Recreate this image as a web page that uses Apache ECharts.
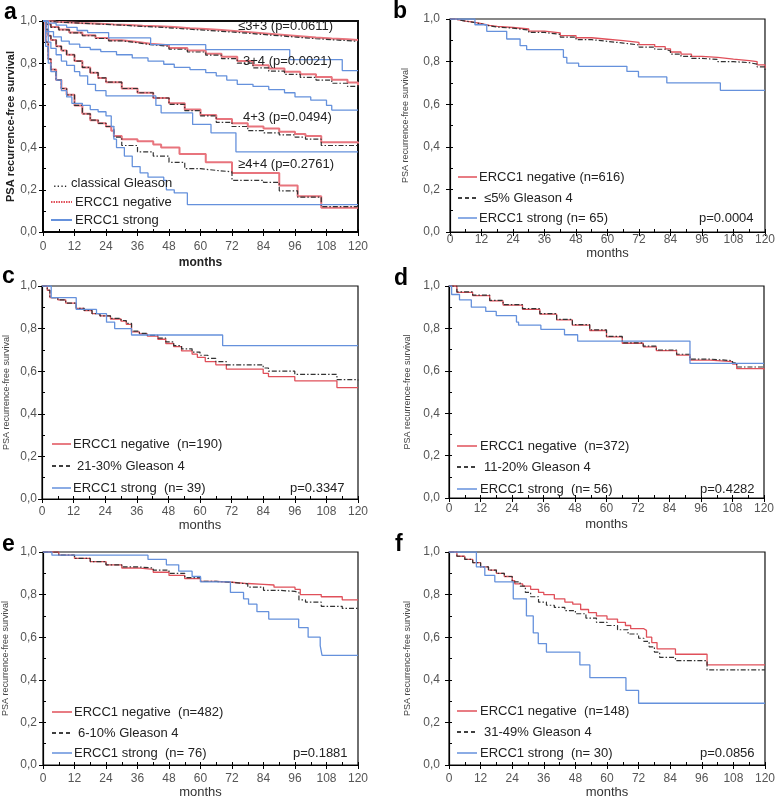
<!DOCTYPE html>
<html><head><meta charset="utf-8">
<script src="https://cdn.jsdelivr.net/npm/echarts@6.0.0/dist/echarts.min.js"></script>
<style>html,body{margin:0;padding:0;background:#fff}#c{width:778px;height:800px}</style>
</head><body><div id="c"></div>
<script>
// ---------- data (months, survival) ----------
const monthTicks = [0, 12, 24, 36, 48, 60, 72, 84, 96, 108, 120];
const survivalTicks = [0, 0.2, 0.4, 0.6, 0.8, 1.0];

// panel a: classical Gleason groups
const a33Neg = [[0,1],[2,0.997],[5,0.994],[9,0.991],[14,0.988],[20,0.984],[27,0.981],[33,0.978],[38,0.975],[44,0.971],[50,0.966],[56,0.962],[62,0.957],[68,0.952],[74,0.946],[80,0.94],[86,0.934],[92,0.928],[98,0.922],[104,0.917],[110,0.913],[116,0.91],[120,0.908]];
const a33Gleason = [[0,1],[2,0.996],[5,0.993],[9,0.99],[14,0.986],[20,0.982],[27,0.978],[33,0.974],[38,0.971],[44,0.966],[50,0.961],[56,0.956],[62,0.951],[68,0.946],[74,0.94],[80,0.934],[86,0.928],[92,0.922],[98,0.916],[104,0.911],[110,0.907],[116,0.903],[120,0.9]];
const a33Strong = [[0,1],[2,0.99],[5,0.98],[9,0.97],[13,0.955],[17,0.945],[25,0.92],[41,0.888],[62,0.864],[94,0.817],[114,0.765],[120,0.765]];

const a34Neg = [[0,1],[1,0.985],[3,0.972],[6,0.96],[10,0.946],[15,0.932],[20,0.92],[25,0.909],[30,0.9],[36,0.892],[41,0.885],[48,0.872],[55,0.86],[62,0.845],[68,0.83],[74,0.81],[80,0.79],[86,0.775],[92,0.76],[98,0.748],[104,0.735],[110,0.722],[116,0.708],[120,0.695]];
const a34Gleason = [[0,1],[1,0.984],[3,0.97],[6,0.958],[10,0.944],[15,0.93],[20,0.917],[25,0.906],[30,0.897],[36,0.888],[41,0.88],[48,0.866],[55,0.853],[62,0.838],[68,0.822],[74,0.8],[80,0.778],[86,0.762],[92,0.747],[98,0.733],[104,0.72],[110,0.705],[116,0.69],[120,0.68]];
const a34Strong = [[0,1],[2,0.95],[4,0.925],[7,0.905],[10,0.89],[14,0.875],[18,0.865],[22,0.855],[28,0.84],[34,0.825],[40,0.81],[46,0.795],[50,0.78],[56,0.77],[62,0.755],[66,0.74],[70,0.72],[74,0.7],[80,0.69],[86,0.675],[92,0.66],[96,0.64],[102,0.625],[108,0.6],[110,0.578],[120,0.578]];

const a43Neg = [[0,1],[1,0.96],[2,0.93],[3,0.91],[5,0.88],[7,0.86],[9,0.84],[12,0.81],[15,0.78],[18,0.755],[21,0.73],[24,0.71],[30,0.68],[36,0.66],[42,0.635],[48,0.61],[54,0.58],[60,0.555],[66,0.535],[72,0.515],[78,0.5],[84,0.49],[90,0.475],[96,0.465],[100,0.455],[106,0.425],[120,0.42]];
const a43Gleason = [[0,1],[1,0.96],[2,0.93],[3,0.91],[5,0.88],[7,0.86],[9,0.84],[12,0.81],[15,0.78],[18,0.755],[21,0.73],[24,0.71],[30,0.68],[36,0.66],[42,0.635],[48,0.605],[54,0.575],[60,0.55],[66,0.52],[72,0.5],[78,0.48],[84,0.47],[90,0.46],[96,0.45],[100,0.44],[106,0.41],[120,0.405]];
const a43Strong = [[0,1],[1,0.95],[2,0.9],[3,0.87],[5,0.84],[7,0.81],[9,0.79],[12,0.76],[14,0.74],[17,0.7],[20,0.67],[24,0.645],[36,0.645],[43,0.6],[45,0.565],[57,0.51],[64,0.47],[73.5,0.38],[120,0.38]];

const a44Neg = [[0,1],[1,0.9],[2,0.82],[3,0.77],[5,0.72],[7,0.68],[9,0.65],[12,0.6],[15,0.56],[18,0.53],[21,0.515],[24,0.5],[26,0.48],[27,0.455],[30,0.44],[36,0.43],[42,0.415],[45,0.4],[52,0.37],[62,0.33],[72,0.28],[90,0.22],[97,0.17],[106,0.115],[120,0.115]];
const a44Gleason = [[0,1],[1,0.9],[2,0.82],[3,0.77],[5,0.72],[7,0.68],[9,0.65],[12,0.6],[15,0.56],[18,0.53],[21,0.515],[24,0.5],[27,0.45],[30,0.41],[36,0.38],[42,0.36],[48,0.33],[54,0.3],[60,0.292],[66,0.285],[72,0.245],[84,0.235],[90,0.195],[97,0.165],[106,0.12],[120,0.12]];
const a44Strong = [[0,1],[1,0.88],[2,0.8],[3,0.76],[5,0.72],[7,0.67],[9,0.64],[11,0.61],[15,0.6],[18,0.58],[21,0.57],[24,0.55],[26,0.5],[27,0.44],[28,0.4],[31,0.36],[34,0.31],[37,0.28],[40,0.26],[46,0.245],[47,0.2],[50,0.185],[55,0.13],[120,0.13]];

// panel b: <=5% Gleason 4
const bNeg = [[0,1],[2,0.995],[4,0.99],[6,0.985],[9,0.978],[12,0.97],[15,0.965],[18,0.96],[24,0.953],[30,0.943],[36,0.935],[42,0.922],[48,0.912],[54,0.905],[60,0.898],[66,0.89],[72,0.88],[78,0.87],[82,0.86],[84,0.845],[88,0.835],[92,0.825],[96,0.82],[102,0.812],[108,0.805],[114,0.8],[117,0.785],[120,0.77]];
const bGleason = [[0,1],[2,0.995],[4,0.99],[6,0.984],[9,0.977],[12,0.968],[15,0.962],[18,0.957],[24,0.948],[30,0.937],[36,0.928],[42,0.915],[48,0.903],[54,0.895],[60,0.887],[66,0.878],[72,0.868],[78,0.858],[82,0.85],[84,0.835],[88,0.825],[92,0.815],[96,0.81],[102,0.8],[108,0.795],[114,0.788],[117,0.775],[120,0.76]];
const bStrong = [[0,1],[9.5,0.973],[14,0.942],[18,0.942],[21.6,0.906],[26.7,0.875],[29.2,0.856],[43.2,0.82],[44.5,0.793],[49,0.778],[67.4,0.754],[71.8,0.728],[82.6,0.7],[103,0.665],[120,0.665]];

// panel c: 21-30% Gleason 4
const cNeg = [[0,1],[2,0.98],[3,0.945],[6,0.935],[9,0.92],[13,0.895],[16,0.885],[19,0.87],[22,0.86],[26,0.845],[30,0.835],[32,0.82],[34,0.785],[37,0.775],[40,0.765],[44,0.75],[47,0.73],[50,0.715],[53,0.695],[57,0.68],[59,0.665],[62,0.645],[66,0.63],[70,0.61],[84,0.59],[86,0.575],[96,0.555],[112,0.523],[120,0.523]];
const cGleason = [[0,1],[2,0.98],[3,0.945],[6,0.935],[9,0.92],[13,0.895],[16,0.885],[19,0.87],[22,0.86],[26,0.848],[30,0.838],[32,0.825],[34,0.788],[37,0.778],[40,0.768],[44,0.755],[47,0.738],[50,0.72],[53,0.705],[57,0.69],[60,0.675],[63,0.66],[66,0.645],[70,0.63],[84,0.615],[86,0.6],[96,0.585],[112,0.56],[120,0.556]];
const cStrong = [[0,1],[1.6,1],[3.5,0.945],[13,0.89],[20.7,0.87],[24.5,0.83],[27.6,0.8],[34,0.77],[68.6,0.72],[120,0.72]];

// panel d: 11-20% Gleason 4
const dNeg = [[0,1],[3,0.97],[9,0.955],[15.5,0.93],[20.6,0.91],[28,0.89],[34.6,0.867],[41,0.84],[47,0.815],[53.6,0.79],[60,0.76],[66,0.73],[74,0.713],[79,0.695],[86.7,0.674],[91.8,0.65],[99.4,0.643],[108,0.632],[109.6,0.61],[120,0.605]];
const dGleason = [[0,1],[3,0.972],[9,0.957],[15.5,0.932],[20.6,0.912],[28,0.893],[34.6,0.87],[41,0.843],[47,0.818],[53.6,0.793],[60,0.762],[66,0.732],[74,0.716],[79,0.698],[86.7,0.678],[91.8,0.655],[99.4,0.648],[108,0.638],[109.6,0.618],[120,0.615]];
const dStrong = [[0,1],[1,0.96],[4,0.935],[8.5,0.9],[14,0.88],[18,0.86],[25.7,0.83],[26.5,0.815],[35,0.795],[44,0.77],[49,0.74],[91.8,0.635],[120,0.635]];

// panel e: 6-10% Gleason 4
const eNeg = [[0,1],[6,0.985],[12,0.97],[18,0.955],[24,0.94],[30,0.925],[36,0.918],[42,0.905],[48,0.89],[54,0.875],[60,0.862],[66,0.858],[72,0.852],[78,0.848],[84,0.845],[88,0.835],[96,0.825],[98,0.8],[106,0.79],[114,0.775],[120,0.775]];
const eGleason = [[0,1],[6,0.985],[12,0.97],[18,0.955],[24,0.94],[30,0.93],[36,0.925],[42,0.915],[48,0.9],[54,0.88],[60,0.862],[66,0.858],[72,0.85],[78,0.835],[84,0.82],[90,0.815],[96,0.81],[97.5,0.775],[100,0.765],[106,0.745],[114,0.735],[120,0.73]];
const eStrong = [[0,1],[3.4,0.985],[40,0.965],[47,0.94],[51.7,0.91],[56.8,0.885],[60,0.86],[71.4,0.81],[76.4,0.78],[78.3,0.755],[81.5,0.72],[86,0.685],[97.4,0.645],[101,0.6],[105.6,0.56],[106.3,0.515],[120,0.515]];

// panel f: 31-49% Gleason 4
const fNeg = [[0,1],[3,0.98],[6,0.965],[9,0.95],[12,0.93],[15,0.915],[18,0.9],[21,0.885],[24,0.865],[25,0.85],[28,0.84],[31,0.825],[34,0.81],[36,0.8],[40,0.78],[44,0.765],[47,0.755],[50,0.73],[53,0.715],[56,0.7],[60,0.685],[64,0.67],[67,0.655],[69,0.64],[74,0.632],[75,0.6],[77,0.575],[79,0.545],[86,0.52],[98,0.47],[120,0.47]];
const fGleason = [[0,1],[3,0.98],[6,0.965],[9,0.95],[12,0.93],[15,0.915],[18,0.9],[21,0.885],[24,0.86],[27,0.84],[29,0.81],[31,0.79],[34,0.765],[37,0.75],[40,0.74],[44,0.725],[48,0.71],[52,0.69],[56,0.67],[60,0.655],[64,0.635],[68,0.615],[72,0.595],[74,0.58],[76,0.555],[78,0.53],[80,0.505],[86,0.49],[98,0.447],[120,0.447]];
const fStrong = [[0,1],[10.4,0.93],[13.6,0.89],[17.4,0.86],[24.4,0.78],[29.4,0.7],[32,0.62],[33.9,0.57],[37,0.53],[49.7,0.47],[53.5,0.41],[67.2,0.35],[72,0.29],[120,0.29]];

// ---------- layout & style ----------
const RED_A = '#e8747d', RED = '#e0505a', BLUE = '#6591dc', BLK = '#333333';
const panels = [
  {g:{left:43, top:21, width:315, height:211}, bold:true, lm:9, ng:25, ylm:6, yng:26,
   series:[[a33Neg,'n'],[a33Gleason,'g'],[a33Strong,'s'],[a34Neg,'n'],[a34Gleason,'g'],[a34Strong,'s'],
           [a43Neg,'n'],[a43Gleason,'g'],[a43Strong,'s'],[a44Neg,'n'],[a44Gleason,'g'],[a44Strong,'s']]},
  {g:{left:450, top:19, width:315, height:213}, lm:2, ng:9, ylm:10, yng:40, series:[[bNeg,'n'],[bGleason,'g'],[bStrong,'s']]},
  {g:{left:42, top:286, width:316, height:213}, lm:7, ng:19, ylm:5, yng:31, series:[[cNeg,'n'],[cGleason,'g'],[cStrong,'s']]},
  {g:{left:449, top:286, width:315, height:212}, lm:5, ng:20, ylm:9, yng:37, series:[[dNeg,'n'],[dGleason,'g'],[dStrong,'s']]},
  {g:{left:43, top:552, width:315, height:213}, lm:8, ng:21, ylm:6, yng:33, series:[[eNeg,'n'],[eGleason,'g'],[eStrong,'s']]},
  {g:{left:449, top:552, width:316, height:213}, lm:8, ng:21, ylm:9, yng:37, series:[[fNeg,'n'],[fGleason,'g'],[fStrong,'s']]}
];
const FONT = 'Liberation Sans, Arial, sans-serif';
const grid = [], xAxis = [], yAxis = [], series = [];
panels.forEach((p, i) => {
  grid.push(Object.assign({show:true, borderColor:'#111', borderWidth:p.bold?2:1.2, backgroundColor:'transparent'}, p.g));
  xAxis.push({gridIndex:i, type:'value', min:monthTicks[0], max:monthTicks[monthTicks.length-1], interval:12,
    axisLine:{show:true, onZero:false, lineStyle:{color:'#000', width:p.bold?1.5:1.2}},
    axisTick:{show:true, length:4, lineStyle:{color:'#000'}},
    axisLabel:{fontSize:12, color:'#555', margin:p.lm, fontFamily:FONT},
    splitLine:{show:false},
    name:'months', nameLocation:'middle', nameGap:p.ng,
    nameTextStyle:{fontSize:p.bold?12:13, fontWeight:p.bold?'bold':'normal', color:p.bold?'#222':'#333', fontFamily:FONT}});
  xAxis.push({gridIndex:i, type:'value', min:0, max:120, interval:6, position:'bottom',
    axisLine:{show:false}, axisTick:{show:true, inside:true, length:3, lineStyle:{color:'#000'}},
    axisLabel:{show:false}, splitLine:{show:false}});
  yAxis.push({gridIndex:i, type:'value', min:survivalTicks[0], max:survivalTicks[survivalTicks.length-1], interval:0.2,
    axisLine:{show:true, onZero:false, lineStyle:{color:'#000', width:p.bold?1.5:1.2}},
    axisTick:{show:true, length:4, lineStyle:{color:'#000'}},
    axisLabel:{fontSize:12, color:'#555', margin:p.ylm, fontFamily:FONT, formatter:v => v.toFixed(1).replace('.', ',')},
    splitLine:{show:false},
    name:'PSA recurrence-free survival', nameLocation:'middle', nameGap:p.yng,
    nameTextStyle:{fontSize:p.bold?11:9, fontWeight:p.bold?'bold':'normal', color:p.bold?'#222':'#444', fontFamily:FONT}});
  yAxis.push({gridIndex:i, type:'value', min:0, max:1, interval:0.1, position:'left',
    axisLine:{show:false}, axisTick:{show:true, inside:true, length:3, lineStyle:{color:'#000'}},
    axisLabel:{show:false}, splitLine:{show:false}});
  p.series.forEach(([data, kind]) => {
    const ls = kind === 'n' ? {color:p.bold?RED_A:RED, width:p.bold?2:1.3, type:'solid'}
             : kind === 'g' ? {color:BLK, width:1.2, type:[5,2,1.5,2]}
             : {color:BLUE, width:1.3, type:'solid'};
    series.push({type:'line', step:'end', data:data, xAxisIndex:2*i, yAxisIndex:2*i, showSymbol:false, symbol:'none',
      silent:true, animation:false, lineStyle:ls, z: kind==='n'?2:(kind==='g'?3:4)});
  });
});

// ---------- annotation texts ----------
function txt(x, y, t, opt) {
  return {type:'text', x:x, y:y, z:100, style:Object.assign({text:t, font:'13px '+FONT, fill:'#222', verticalAlign:'middle', align:'left'}, opt||{})};
}
function seg(x1, y1, x2, y2, color, dash, w) {
  return {type:'line', z:100, shape:{x1:x1, y1:y1, x2:x2, y2:y2}, style:{stroke:color, lineWidth:w||1.5, lineDash:dash||null}};
}
const graphic = [
  txt(4, 13, 'a', {font:'bold 23px '+FONT, fill:'#000'}),
  txt(393, 12, 'b', {font:'bold 23px '+FONT, fill:'#000'}),
  txt(2, 277, 'c', {font:'bold 23px '+FONT, fill:'#000'}),
  txt(394, 279, 'd', {font:'bold 23px '+FONT, fill:'#000'}),
  txt(2, 545, 'e', {font:'bold 23px '+FONT, fill:'#000'}),
  txt(395, 545, 'f', {font:'bold 23px '+FONT, fill:'#000'}),
  // panel a
  txt(238, 26, '≤3+3 (p=0.0611)'),
  txt(243, 61, '3+4 (p=0.0021)'),
  txt(243, 117, '4+3 (p=0.0494)'),
  txt(238, 164, '≥4+4 (p=0.2761)'),
  txt(53, 183, '.... classical Gleason'),
  seg(51, 202, 72, 202, RED, [1.5,1], 2), txt(75, 202, 'ERCC1 negative'),
  seg(51, 220, 72, 220, BLUE, null, 2), txt(75, 220, 'ERCC1 strong'),
  // panel b
  seg(458, 177, 477, 177, RED), txt(479, 177, 'ERCC1 negative (n=616)'),
  seg(458, 198, 476, 198, '#000', [4,3]), txt(484, 198, '≤5% Gleason 4'),
  seg(458, 218, 477, 218, BLUE), txt(479, 218, 'ERCC1 strong (n= 65)'),
  txt(699, 218, 'p=0.0004'),
  // panel c
  seg(52, 444, 71, 444, RED), txt(73, 444, 'ERCC1 negative  (n=190)'),
  seg(52, 466, 70, 466, '#000', [4,3]), txt(77, 466, '21-30% Gleason 4'),
  seg(52, 488, 71, 488, BLUE), txt(73, 488, 'ERCC1 strong  (n= 39)'),
  txt(290, 488, 'p=0.3347'),
  // panel d
  seg(457, 446, 477, 446, RED), txt(480, 446, 'ERCC1 negative  (n=372)'),
  seg(457, 467, 475, 467, '#000', [4,3]), txt(484, 467, '11-20% Gleason 4'),
  seg(457, 489, 477, 489, BLUE), txt(480, 489, 'ERCC1 strong  (n= 56)'),
  txt(700, 489, 'p=0.4282'),
  // panel e
  seg(52, 712, 72, 712, RED), txt(74, 712, 'ERCC1 negative  (n=482)'),
  seg(52, 733, 70, 733, '#000', [4,3]), txt(78, 733, '6-10% Gleason 4'),
  seg(52, 753, 72, 753, BLUE), txt(74, 753, 'ERCC1 strong  (n= 76)'),
  txt(293, 753, 'p=0.1881'),
  // panel f
  seg(457, 711, 477, 711, RED), txt(480, 711, 'ERCC1 negative  (n=148)'),
  seg(457, 732, 475, 732, '#000', [4,3]), txt(484, 732, '31-49% Gleason 4'),
  seg(457, 753, 477, 753, BLUE), txt(480, 753, 'ERCC1 strong  (n= 30)'),
  txt(700, 753, 'p=0.0856')
];

const chart = echarts.init(document.getElementById('c'), null, {renderer:'canvas', width:778, height:800});
chart.setOption({animation:false, backgroundColor:'#fff', grid, xAxis, yAxis, series, graphic});
</script></body></html>
